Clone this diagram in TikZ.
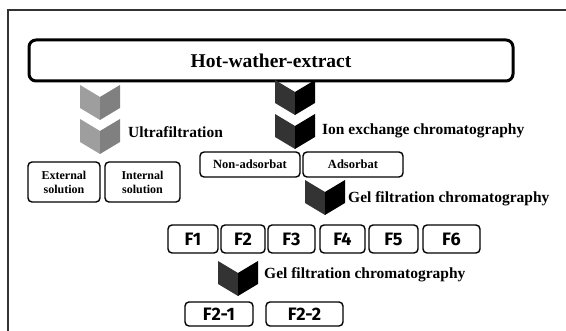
\documentclass[tikz,border=0pt]{standalone}
\usepackage{fontspec}
\setmainfont{Liberation Serif}
\newfontfamily\fracfont{Fira Sans}
\usetikzlibrary{positioning}

% chevron: centre x, top y, fill of left half, fill of right half
\newcommand{\chevron}[4]{%
  \fill[#3] (#1-20,#2) -- (#1,#2+12) -- (#1,#2+35) -- (#1-20,#2+23) -- cycle;
  \fill[#4] (#1+20,#2) -- (#1,#2+12) -- (#1,#2+35) -- (#1+20,#2+23) -- cycle;
}

\begin{document}
\begin{tikzpicture}[x=1pt,y=-1pt]
\tikzstyle{box}=[draw, rounded corners=4pt, line width=1.4pt, text centered, inner sep=0pt, font=\bfseries\fontsize{12}{14}\selectfont]
\tikzstyle{fbox}=[box, minimum height=28pt, font=\fracfont\bfseries\fontsize{18}{18}\selectfont]
\tikzstyle{fbbox}=[fbox, minimum height=24pt]
\tikzstyle{steplabel}=[anchor=west, inner sep=0pt, font=\bfseries\fontsize{15.5}{15.5}\selectfont]

\useasboundingbox (0,0) rectangle (566,331);
\clip (0,0) rectangle (566,331);

% frame
\draw[line width=1.3pt, black!80] (8,400) -- (8,10) -- (620,10);

\node[box, line width=3pt, rounded corners=7pt, minimum width=484pt, minimum height=41pt,
      font=\bfseries\fontsize{19.5}{19.5}\selectfont] (hwe) at (271,60.5) {Hot-wather-extract};

% ultrafiltration branch
\chevron{100}{85}{black!38}{black!50}
\chevron{100}{119}{black!38}{black!50}
\node[steplabel] (uf) at (128,132) {Ultrafiltration};
\node[box, minimum width=72pt, minimum height=40pt, align=center] (ext) at (64,182) {External\\solution};
\node[box, minimum width=75pt, minimum height=40pt, align=center] (int) at (142.5,182) {Internal\\solution};

% ion exchange branch
\chevron{295}{80}{black!80}{black}
\chevron{295}{114}{black!80}{black}
\node[steplabel] (iec) at (322,131) {Ion exchange chromatography};
\node[box, minimum width=100pt, minimum height=25pt, font=\bfseries\fontsize{12.5}{14}\selectfont] (nonads) at (250,164.5) {Non-adsorbat};
\node[box, minimum width=100pt, minimum height=25pt, font=\bfseries\fontsize{12.5}{14}\selectfont] (ads) at (353,164.5) {Adsorbat};

% gel filtration
\chevron{325}{180}{black!80}{black}
\node[steplabel] (gfc) at (348,199) {Gel filtration chromatography};
\node[fbox, minimum width=50pt] (f1) at (193,239) {F1};
\node[fbox, minimum width=44pt] (f2) at (243,239) {F2};
\node[fbox, minimum width=47pt] (f3) at (291.5,239) {F3};
\node[fbox, minimum width=45pt] (f4) at (342.5,239) {F4};
\node[fbox, minimum width=49pt] (f5) at (393.5,239) {F5};
\node[fbox, minimum width=57pt] (f6) at (451.5,239) {F6};

% gel filtration of F2
\chevron{238}{261}{black!80}{black}
\node[steplabel] (gfc2) at (264,275) {Gel filtration chromatography};
\node[fbbox, minimum width=68pt] (f21) at (219,314) {F2-1};
\node[fbbox, minimum width=77pt] (f22) at (304.5,314) {F2-2};

\end{tikzpicture}
\end{document}
